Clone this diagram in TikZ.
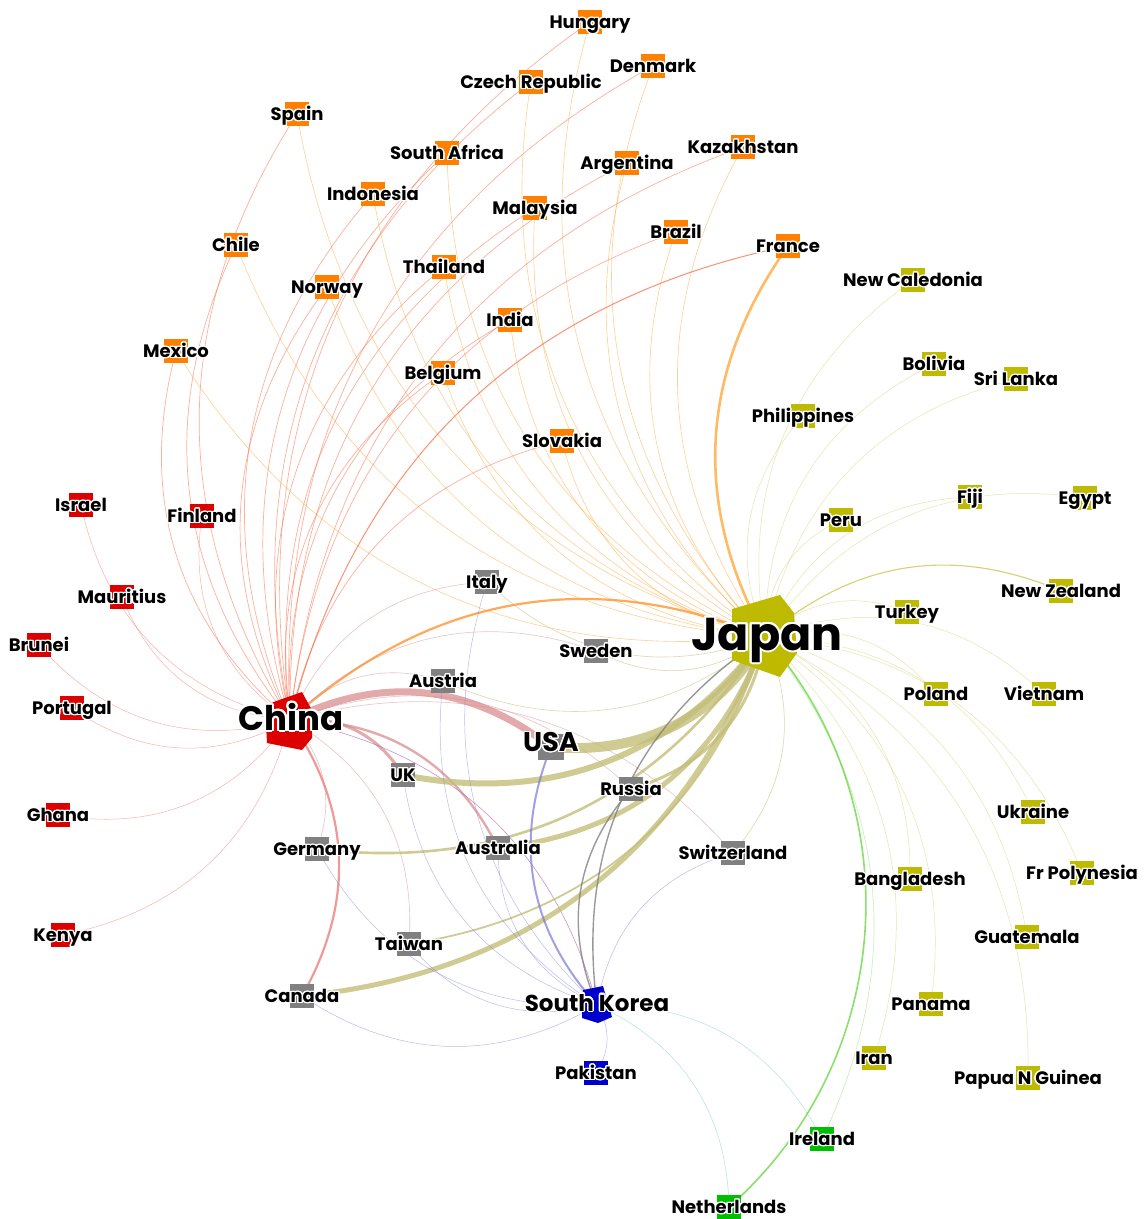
\documentclass[tikz,border=0pt]{standalone}
\usepackage{fontspec}
\setmainfont{Poppins}
\usepackage{contour}
\contourlength{1.3pt}
\contournumber{24}
\pgfdeclarelayer{edges}
\pgfsetlayers{edges,main}
\definecolor{cOr}{RGB}{255,128,0}
\definecolor{cOl}{RGB}{190,186,0}
\definecolor{cRd}{RGB}{220,0,0}
\definecolor{cGy}{RGB}{128,128,128}
\definecolor{cBl}{RGB}{0,0,205}
\definecolor{cGr}{RGB}{0,190,0}
\definecolor{ceJO}{RGB}{255,170,60}
\definecolor{ceCO}{RGB}{250,100,60}
\definecolor{ceJY}{RGB}{200,200,80}
\definecolor{ceCR}{RGB}{245,100,100}
\definecolor{ceCG}{RGB}{215,135,135}
\definecolor{ceJG}{RGB}{195,190,120}
\definecolor{ceKG}{RGB}{120,120,215}
\definecolor{ceKN}{RGB}{130,205,205}
\definecolor{ceJN}{RGB}{110,215,70}
\tikzset{
  mk/.style={rectangle, minimum width=24pt, minimum height=24pt, inner sep=0pt, draw=none},
  lbl/.style={font=\bfseries\fontsize{18}{18}\selectfont, inner sep=0pt, text=black, anchor=base},
  hub/.style={font=\bfseries\fontsize{#1}{#1}\selectfont, inner sep=0pt, text=black, anchor=base},
  eJO/.style={draw=ceJO, line width=0.6pt, opacity=0.55},
  eCO/.style={draw=ceCO, line width=0.7pt, opacity=0.5},
  eJY/.style={draw=ceJY, line width=0.5pt, opacity=0.45},
  eCR/.style={draw=ceCR, line width=0.5pt, opacity=0.5},
  eCG/.style={draw=ceCG, line width=0.6pt, opacity=0.7},
  eJG/.style={draw=ceJG, line width=0.6pt, opacity=0.8},
  eKG/.style={draw=ceKG, line width=0.5pt, opacity=0.5},
  eKN/.style={draw=ceKN, line width=0.5pt, opacity=0.6},
  eJN/.style={draw=ceJN, line width=0.6pt, opacity=0.6}
}
\newcommand\ctry[5]{\node[mk,fill=#4] (#1) at (#2,#3) {};
  \node[lbl] (#1-t) at (#2,#3+6.5) {\contour{white}{#5}};}
\newcommand\ed[4][32]{\draw[#2] (#3.center) to[bend left=#1] (#4.center);}
\begin{document}
\begin{tikzpicture}[x=1pt,y=-1pt]
\useasboundingbox (0,0) rectangle (1145,1219);
\begin{pgfonlayer}{edges}
\fill[white] (0,0) rectangle (1145,1219);
\end{pgfonlayer}
% hub coordinates
\coordinate (Japan) at (765,637);
\coordinate (China) at (290,720);
\coordinate (SKorea) at (597,1005);
\fill[cOl] (732,609) -- (780,595) -- (794,613) -- (797,653) -- (780,677) -- (732,660) -- cycle;
\fill[cRd] (265,705) -- (302,692) -- (313,712) -- (312,738) -- (302,750) -- (267,743) -- cycle;
\fill[cBl] (583,990) -- (603,986) -- (612,1017) -- (598,1023) -- (582,1018) -- cycle;
% orange
\ctry{Hungary}{590}{22}{cOr}{Hungary}
\ctry{Czech}{531}{82}{cOr}{Czech Republic}
\ctry{Denmark}{653}{66}{cOr}{Denmark}
\ctry{Spain}{297}{114}{cOr}{Spain}
\ctry{SAfrica}{447}{153}{cOr}{South Africa}
\ctry{Argentina}{627}{163}{cOr}{Argentina}
\ctry{Kazakhstan}{743}{147}{cOr}{Kazakhstan}
\ctry{Indonesia}{373}{194}{cOr}{Indonesia}
\ctry{Malaysia}{535}{208}{cOr}{Malaysia}
\ctry{Brazil}{676}{232}{cOr}{Brazil}
\ctry{France}{788}{246}{cOr}{France}
\ctry{Chile}{236}{245}{cOr}{Chile}
\ctry{Norway}{327}{287}{cOr}{Norway}
\ctry{Thailand}{444}{267}{cOr}{Thailand}
\ctry{India}{510}{320}{cOr}{India}
\ctry{Mexico}{176}{351}{cOr}{Mexico}
\ctry{Belgium}{443}{373}{cOr}{Belgium}
\ctry{Slovakia}{562}{441}{cOr}{Slovakia}
% olive
\ctry{NCaledonia}{913}{280}{cOl}{New Caledonia}
\ctry{Bolivia}{934}{364}{cOl}{Bolivia}
\ctry{SriLanka}{1016}{379}{cOl}{Sri Lanka}
\ctry{Philippines}{803}{416}{cOl}{Philippines}
\ctry{Peru}{841}{520}{cOl}{Peru}
\ctry{Fiji}{970}{497}{cOl}{Fiji}
\ctry{Egypt}{1085}{498}{cOl}{Egypt}
\ctry{NZealand}{1061}{591}{cOl}{New Zealand}
\ctry{Turkey}{907}{612}{cOl}{Turkey}
\ctry{Poland}{936}{694}{cOl}{Poland}
\ctry{Vietnam}{1044}{694}{cOl}{Vietnam}
\ctry{Ukraine}{1033}{812}{cOl}{Ukraine}
\ctry{FrPolynesia}{1082}{873}{cOl}{Fr Polynesia}
\ctry{Bangladesh}{910}{879}{cOl}{Bangladesh}
\ctry{Guatemala}{1027}{937}{cOl}{Guatemala}
\ctry{Panama}{931}{1004}{cOl}{Panama}
\ctry{Iran}{874}{1058}{cOl}{Iran}
\ctry{PNG}{1028}{1078}{cOl}{Papua N Guinea}
% red
\ctry{Israel}{81}{505}{cRd}{Israel}
\ctry{Finland}{202}{516}{cRd}{Finland}
\ctry{Mauritius}{122}{597}{cRd}{Mauritius}
\ctry{Brunei}{39}{645}{cRd}{Brunei}
\ctry{Portugal}{72}{708}{cRd}{Portugal}
\ctry{Ghana}{58}{815}{cRd}{Ghana}
\ctry{Kenya}{63}{935}{cRd}{Kenya}
% gray
\ctry{Italy}{487}{582}{cGy}{Italy}
\ctry{Sweden}{596}{651}{cGy}{Sweden}
\ctry{Austria}{443}{681}{cGy}{Austria}
\node[mk,fill=cGy,minimum width=26pt,minimum height=26pt] (USA) at (551,747) {};
\ctry{UK}{403}{775}{cGy}{UK}
\ctry{Russia}{631}{789}{cGy}{Russia}
\ctry{Germany}{317}{849}{cGy}{Germany}
\ctry{Australia}{498}{848}{cGy}{Australia}
\ctry{Switzerland}{733}{853}{cGy}{Switzerland}
\ctry{Taiwan}{409}{944}{cGy}{Taiwan}
\ctry{Canada}{302}{996}{cGy}{Canada}
% blue / green
\ctry{Pakistan}{596}{1073}{cBl}{Pakistan}
\ctry{Ireland}{822}{1139}{cGr}{Ireland}
\ctry{Netherlands}{729}{1207}{cGr}{Netherlands}
% hub labels
\node[hub=27] (USA-t) at (551,751.5) {\contour{white}{USA}};
\node[hub=23] (SKorea-t) at (597,1011) {\contour{white}{South Korea}};
\contourlength{2pt}
\node[hub=34] (China-t) at (291,730) {\contour{white}{China}};
\node[hub=46] (Japan-t) at (767,650) {\contour{white}{Japan}};
% edges
\begin{pgfonlayer}{edges}
\foreach \n in {NCaledonia,Bolivia,SriLanka,Philippines,Peru,Fiji,Egypt,Turkey,Poland,Vietnam,Ukraine,FrPolynesia,Bangladesh,Guatemala,Panama,Iran,PNG}
  {\ed{eJY}{Japan}{\n}}
\ed{eJY,line width=1.1pt,opacity=.8}{Japan}{NZealand}
\foreach \n in {Israel,Finland,Mauritius,Brunei,Portugal,Ghana,Kenya}
  {\ed{eCR}{China}{\n}}
\foreach \n in {Hungary,Czech,Denmark,Spain,SAfrica,Argentina,Kazakhstan,Indonesia,Malaysia,Brazil,Chile,Norway,Thailand,India,Mexico,Belgium,Slovakia}
  {\ed{eJO}{Japan}{\n}\ed{eCO}{China}{\n}}
\ed{eCO,line width=1pt,opacity=.7}{China}{France}
\ed{eJO,line width=2.6pt,opacity=.8}{Japan}{France}
\ed{draw=ceJO!80!ceCO,line width=2.2pt,opacity=.85}{China}{Japan}
% gray
\ed{eCG,line width=7pt}{China}{USA}
\ed{eCG,line width=3pt}{China}{UK}
\ed{eCG,line width=2.4pt}{China}{Australia}
\ed{eCG,line width=2.2pt,draw=ceCR!70!ceCG}{China}{Canada}
\foreach \n in {Italy,Austria,Germany,Taiwan,Switzerland,Russia,Sweden}
  {\ed{eCG,opacity=.5}{China}{\n}}
\ed{draw=violet!60,line width=.6pt,opacity=.7}{China}{SKorea}
\ed{eJG,line width=10pt}{Japan}{USA}
\ed{eJG,line width=6pt}{Japan}{UK}
\ed{eJG,line width=5pt}{Japan}{Australia}
\ed{eJG,line width=5pt}{Japan}{Canada}
\ed{eJG,line width=3pt}{Japan}{Russia}
\ed{eJG,line width=2.6pt}{Japan}{Germany}
\ed{eJG,line width=1.8pt}{Japan}{Taiwan}
\foreach \n in {Switzerland,Sweden,Italy,Austria}
  {\ed{eJG,opacity=.6}{Japan}{\n}}
\ed{eKG,line width=2pt,opacity=.7}{SKorea}{USA}
\ed{draw=gray,line width=1.4pt,opacity=.8}{SKorea}{Russia}
\ed{draw=gray,line width=1.4pt,opacity=.8}{SKorea}{Japan}
\foreach \n in {Canada,Taiwan,Germany,Australia,UK,Italy,Austria,Switzerland,Pakistan}
  {\ed{eKG}{SKorea}{\n}}
\ed{eKN}{SKorea}{Ireland}
\ed{eKN}{SKorea}{Netherlands}
\ed[45]{eJN,line width=1.6pt,opacity=.8}{Japan}{Netherlands}
\ed{eJN,opacity=.4}{Japan}{Ireland}
\end{pgfonlayer}
\end{tikzpicture}
\end{document}
